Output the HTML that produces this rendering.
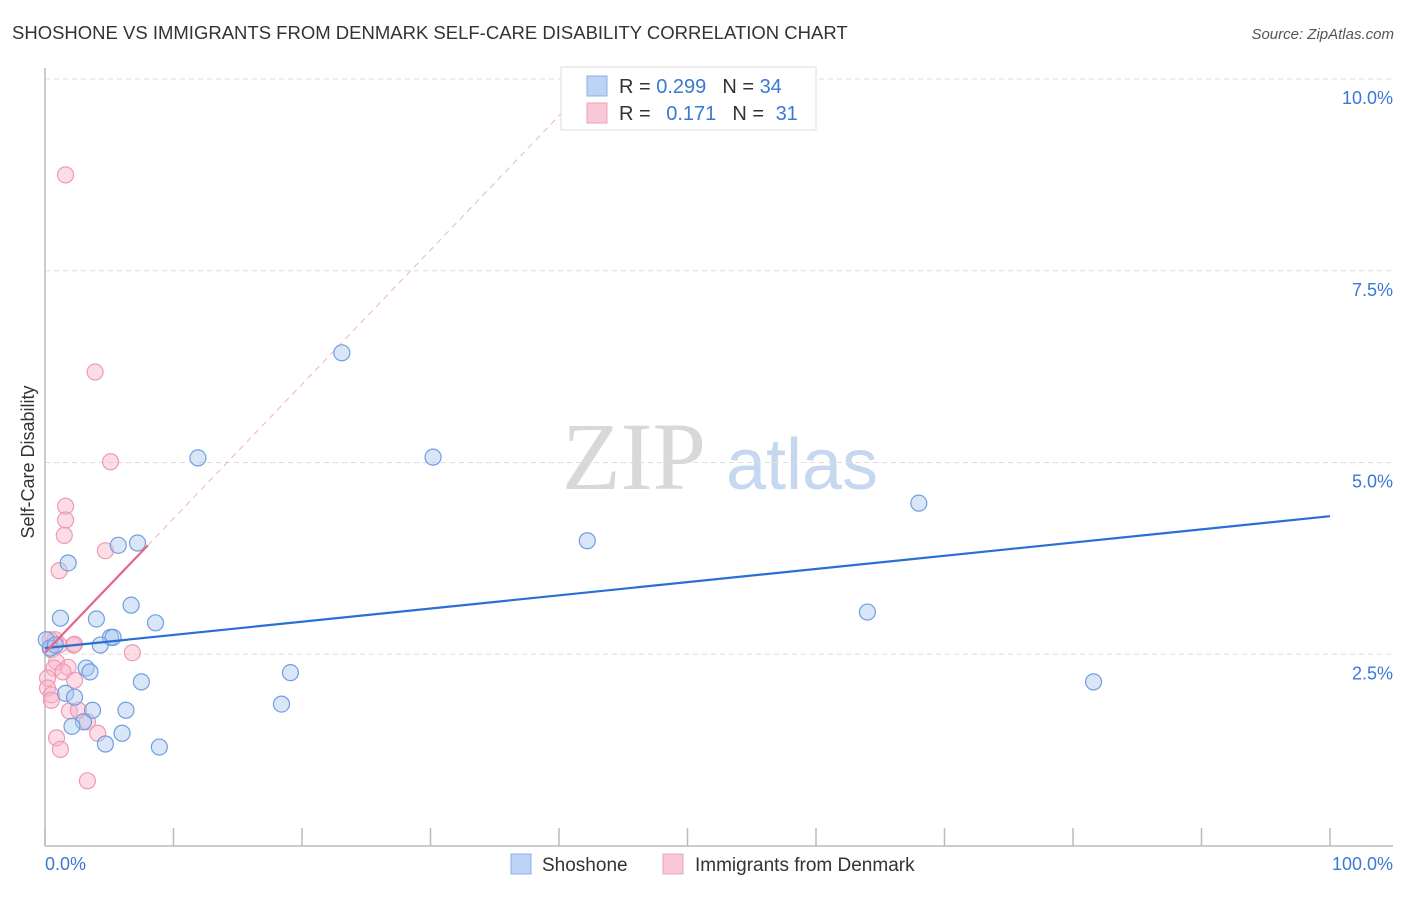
<!DOCTYPE html>
<html><head><meta charset="utf-8"><style>
body{margin:0;background:#fff;font-family:"Liberation Sans",sans-serif;}
svg text{font-family:"Liberation Sans",sans-serif;}
</style></head><body>
<svg id="chart" width="1406" height="892" xmlns="http://www.w3.org/2000/svg">
<text x="12" y="39" font-size="18.5" fill="#333">SHOSHONE VS IMMIGRANTS FROM DENMARK SELF-CARE DISABILITY CORRELATION CHART</text>
<text x="1394" y="39" font-size="15" fill="#555" font-style="italic" text-anchor="end">Source: ZipAtlas.com</text>
<g>
<text x="634" y="489" font-size="96" fill="#d8d8d8" font-family="Liberation Serif,serif" text-anchor="middle" style="font-family:'Liberation Serif',serif">ZIP</text>
<text x="802" y="489" font-size="72" fill="#c5d8f0" text-anchor="middle">atlas</text>
</g>
<g id="grid"></g>
<line x1="45" y1="68" x2="45" y2="846" stroke="#bbb" stroke-width="1.5"/>
<line x1="45" y1="846" x2="1393" y2="846" stroke="#bbb" stroke-width="1.5"/>
<g id="xticks"></g>
<text x="28" y="456" font-size="18" fill="#333" text-anchor="middle" transform="rotate(-90 34 456)">Self-Care Disability</text>
<text x="45" y="870" font-size="18" fill="#3a78d4">0.0%</text>
<text x="1393" y="870" font-size="18" fill="#3a78d4" text-anchor="end">100.0%</text>
<g id="lines"></g>
<g id="pts"></g>
<g>
<rect x="561" y="67" width="255" height="63" fill="#fff" stroke="#ddd"/>
<rect x="587" y="76" width="20" height="20" fill="#bcd3f5" stroke="#8ab0e8"/>
<rect x="587" y="103" width="20" height="20" fill="#f8c8d6" stroke="#eea0b8"/>
<text x="619" y="93" font-size="20" fill="#333">R = <tspan fill="#3a78d4">0.299</tspan><tspan dx="16">N = </tspan><tspan fill="#3a78d4">34</tspan></text>
<text x="619" y="120" font-size="20" fill="#333">R = <tspan dx="10" fill="#3a78d4">0.171</tspan><tspan dx="16">N = </tspan><tspan dx="6" fill="#3a78d4">31</tspan></text>
</g>
<g>
<rect x="511" y="854" width="20" height="20" fill="#bcd3f5" stroke="#8ab0e8"/>
<text x="542" y="871" font-size="19" fill="#333">Shoshone</text>
<rect x="663" y="854" width="20" height="20" fill="#f8c8d6" stroke="#eea0b8"/>
<text x="695" y="871" font-size="19" fill="#333">Immigrants from Denmark</text>
</g>
</svg>
<script>
const yTicks=[2.5,5.0,7.5,10.0];
const yTickLabels=["2.5%","5.0%","7.5%","10.0%"];
const blueX=[23.1,11.9,30.2,68.0,42.2,64.0,81.6,5.7,7.2,1.8,6.7,1.2,4.0,8.6,5.1,5.3,4.3,0.1,0.4,0.8,3.2,3.5,7.5,19.1,1.6,2.3,3.7,6.3,18.4,3.0,2.1,6.0,4.7,8.9];
const blueY=[6.43,5.06,5.07,4.47,3.98,3.05,2.14,3.92,3.95,3.69,3.14,2.97,2.96,2.91,2.72,2.72,2.62,2.69,2.58,2.62,2.32,2.27,2.14,2.26,1.99,1.94,1.77,1.77,1.85,1.62,1.56,1.47,1.33,1.29];
const pinkX=[1.6,3.9,5.1,1.6,1.6,1.5,4.7,1.1,0.8,1.1,2.2,0.5,0.9,0.7,1.8,1.4,0.2,2.3,0.2,0.5,0.5,1.9,2.6,0.9,3.3,4.1,1.2,3.3,6.8,0.4,2.3];
const pinkY=[8.75,6.18,5.01,4.43,4.25,4.05,3.85,3.59,2.69,2.62,2.62,2.56,2.40,2.32,2.33,2.27,2.19,2.16,2.06,1.97,1.90,1.76,1.77,1.41,1.62,1.47,1.26,0.85,2.52,2.69,2.63];
const blueTrend=[2.58,4.30];
const pinkTrend=[2.52,0.175];
const NS="http://www.w3.org/2000/svg";
const sx=v=>45+v*12.85, sy=v=>846-v*76.7;
function mk(t,a,p){const e=document.createElementNS(NS,t);for(const k in a)e.setAttribute(k,a[k]);p.appendChild(e);return e;}
const grid=document.getElementById('grid');
yTicks.forEach((v,i)=>{
 const l=mk('line',{x1:45,x2:1393,y1:sy(v),y2:sy(v),stroke:'#ddd','stroke-dasharray':'5,4'},grid);
 
 
 const t=mk('text',{x:1393,y:sy(v)+25,'font-size':18,fill:'#3a78d4','text-anchor':'end'},grid);
 t.textContent=yTickLabels[i];
 
 
});
const xt=document.getElementById('xticks');
for(let i=0;i<=10;i++){
 const l=mk('line',{x1:sx(i*10),x2:sx(i*10),y1:828,y2:846,stroke:'#bbb','stroke-width':1.5},xt);
 
 
}
const lines=document.getElementById('lines');
let d=mk('line',{x1:sx(8),y1:sy(pinkTrend[0]+pinkTrend[1]*8),x2:sx(41),y2:sy(pinkTrend[0]+pinkTrend[1]*41),stroke:'#f0b0c0','stroke-dasharray':'6,5'},lines);


const pts=document.getElementById('pts');
pinkX.forEach((x,i)=>{
 const c=mk('circle',{cx:sx(x),cy:sy(pinkY[i]),r:8,fill:'rgba(248,180,200,0.45)',stroke:'#ee9ab4','stroke-width':1.2},pts);
 
 
});
blueX.forEach((x,i)=>{
 const c=mk('circle',{cx:sx(x),cy:sy(blueY[i]),r:8,fill:'rgba(170,200,240,0.45)',stroke:'#6f9ee0','stroke-width':1.2},pts);
 
 
});
let b=mk('line',{x1:sx(0),y1:sy(blueTrend[0]),x2:sx(100),y2:sy(blueTrend[1]),stroke:'#2a6fd6','stroke-width':2.2},pts);


let p=mk('line',{x1:sx(0),y1:sy(pinkTrend[0]),x2:sx(8),y2:sy(pinkTrend[0]+pinkTrend[1]*8),stroke:'#e8648c','stroke-width':2.2},pts);


</script>
</body></html>
